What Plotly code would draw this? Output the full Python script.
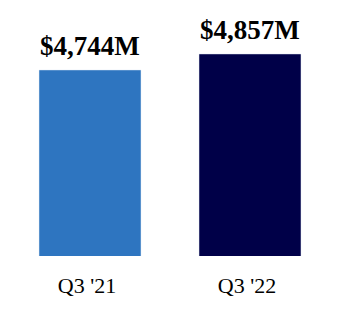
import plotly.graph_objects as go

categories = ["Q3 '21", "Q3 '22"]
values = [4744, 4857]
labels = ["$4,744M", "$4,857M"]
colors = ["#2E75C0", "#000048"]

fig = go.Figure()
fig.add_trace(go.Bar(
    x=categories, y=values, marker_color=colors, width=0.6375,
    hoverinfo="skip",
))
for c, v, t in zip(categories, values, labels):
    fig.add_annotation(x=c, y=v, text="<b>%s</b>" % t, showarrow=False,
                       yanchor="bottom", yshift=7,
                       font=dict(family="Liberation Serif", size=27, color="#000000"))

fig.update_layout(
    width=340, height=310,
    margin=dict(l=10, r=10, t=0, b=54),
    paper_bgcolor="white", plot_bgcolor="white",
    showlegend=False,
    xaxis=dict(range=[-0.5, 1.5], showgrid=False, zeroline=False, showline=False,
               ticks="", ticklabelshift=-3, ticklabelstandoff=14,
               tickfont=dict(family="Liberation Serif", size=22, color="#000000")),
    yaxis=dict(range=[3430, 5238], visible=False),
)
fig.write_html("out.html")
